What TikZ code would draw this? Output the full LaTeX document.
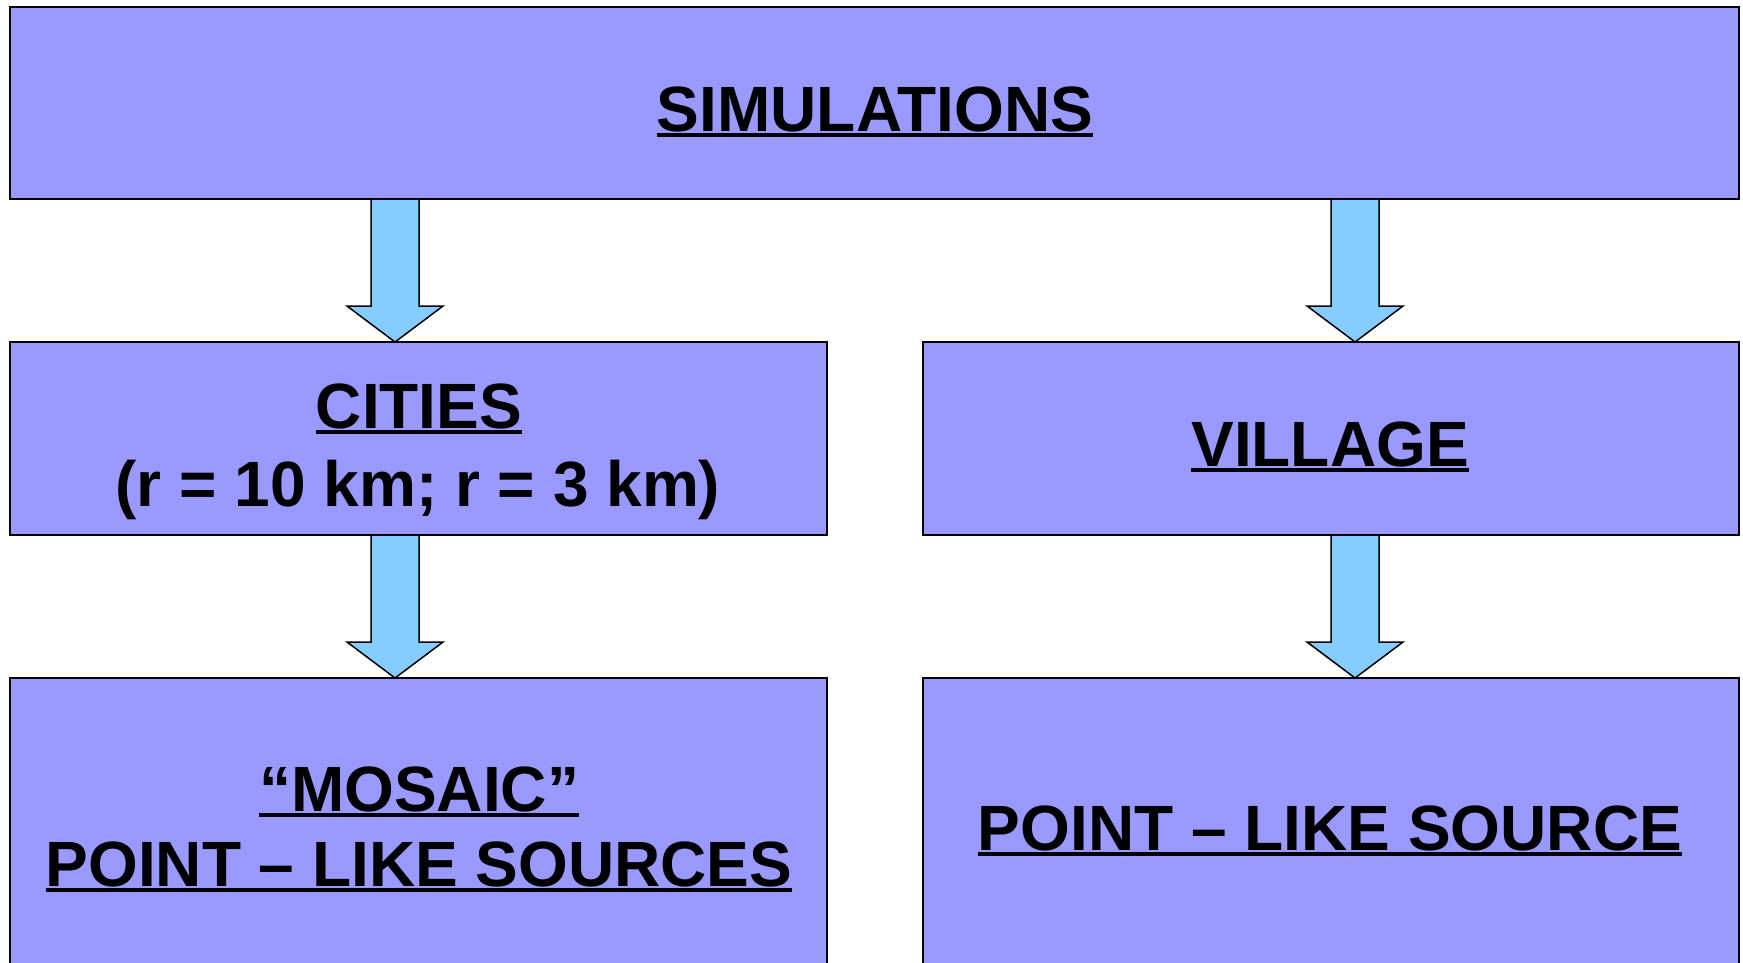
\documentclass[tikz,border=0pt]{standalone}
\usepackage{fontspec}
\setmainfont{Liberation Sans}
\usetikzlibrary{calc}
\definecolor{boxfill}{RGB}{153,153,255}
\definecolor{arrowfill}{RGB}{133,204,255}
\newcommand\ulr[1]{\setbox0\hbox{#1}\rlap{\rule[-6pt]{\wd0}{4pt}}\box0}
\newcommand\blockarrow[3]{%
  \path (#1.south -| #3) coordinate (t) (#2.north -| #3) coordinate (b);
  \draw[arrowst] ($(t)+(-24,0)$) -- ($(b)+(-24,-36)$) -- ($(b)+(-48,-36)$) -- (b)
    -- ($(b)+(48,-36)$) -- ($(b)+(24,-36)$) -- ($(t)+(24,0)$) -- cycle;}
\tikzset{
  box/.style={draw=black, line width=2pt, fill=boxfill, rectangle, inner sep=0pt, outer sep=0pt},
  arrowst/.style={draw=black, line width=1.5pt, fill=arrowfill, line join=miter},
  lbl/.style={anchor=base, inner sep=0pt, font=\fontsize{64}{77}\selectfont\bfseries}
}
\begin{document}
\begin{tikzpicture}[x=1pt,y=-1pt]
\useasboundingbox (0,0) rectangle (1743,962);
\fill[white] (0,0) rectangle (1743,962);
\clip (0,0) rectangle (1743,962);
\node[box, minimum width=1729pt, minimum height=192pt] (sim) at (874.5,103) {};
\node[box, minimum width=817pt, minimum height=193pt] (cit) at (418.5,438.5) {};
\node[box, minimum width=816pt, minimum height=193pt] (vil) at (1331,438.5) {};
\node[box, minimum width=817pt, minimum height=322pt] (mos) at (418.5,839) {};
\node[box, minimum width=816pt, minimum height=322pt] (pls) at (1331,839) {};
\coordinate (ca) at (395,0);
\coordinate (cb) at (1355,0);
\blockarrow{sim}{cit}{ca}
\blockarrow{sim}{vil}{cb}
\blockarrow{cit}{mos}{ca}
\blockarrow{vil}{pls}{cb}
\node[lbl] (t1) at (875,131) {\ulr{SIMULATIONS}};
\node[lbl] (t2) at (419,428) {\ulr{CITIES}};
\node[lbl] (t3) at (418,506) {(r = 10 km; r = 3 km)};
\node[lbl] (t4) at (1330,466) {\ulr{VILLAGE}};
\node[lbl] (t5) at (419,811) {\ulr{“MOSAIC”}};
\node[lbl] (t6) at (419,886) {\ulr{POINT – LIKE SOURCES}};
\node[lbl] (t7) at (1330,850) {\ulr{POINT – LIKE SOURCE}};
\end{tikzpicture}
\end{document}
